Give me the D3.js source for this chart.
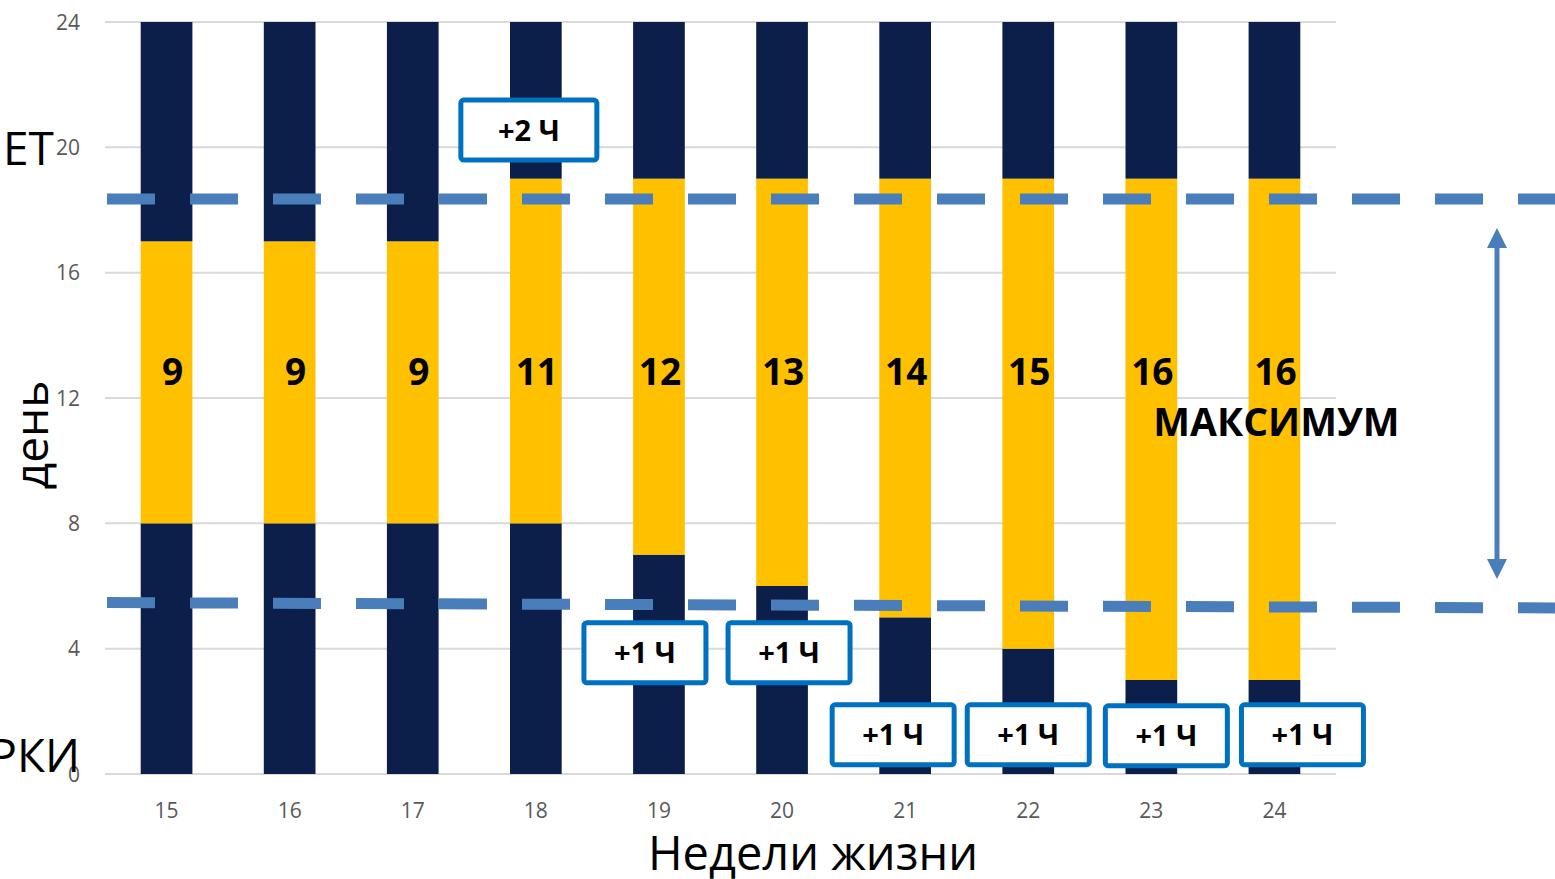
<!DOCTYPE html>
<html lang="ru">
  <head>
    <meta charset="UTF-8" />
    <title>Световой день</title>
    <style>
      body { margin: 0; background: #fff; }
      svg { display: block; }
      .grid line { stroke: #d9d9d9; stroke-width: 2px; }
      .tick-label { fill: #595959; font-family: "Open Sans", sans-serif; font-size: 21px; }
      .big { fill: #000; font-family: "Open Sans", sans-serif; font-size: 46px; }
      .val { fill: #000; font-family: "Open Sans", sans-serif; font-weight: 700; font-size: 37px; }
      .box rect { fill: #fff; stroke: #0070c0; stroke-width: 5px; }
      .box text { fill: #000; font-family: "Open Sans", sans-serif; font-weight: 700; font-size: 29px; }
    </style>
  </head>
  <body>
    <script src="https://cdn.jsdelivr.net/npm/d3@7"></script>
    <script>
      /* global d3 */

      // weeks of life, hour the light goes on, hour it goes off
      const weeks = [15, 16, 17, 18, 19, 20, 21, 22, 23, 24];
      const lightOn = [8, 8, 8, 8, 7, 6, 5, 4, 3, 3];
      const lightOff = [17, 17, 17, 19, 19, 19, 19, 19, 19, 19];
      const yTicks = [0, 4, 8, 12, 16, 20, 24];

      // the "+N Ч" callouts
      const noteWeeks = [18, 19, 20, 21, 22, 23, 24];
      const noteText = ["+2 Ч", "+1 Ч", "+1 Ч", "+1 Ч", "+1 Ч", "+1 Ч", "+1 Ч"];
      const noteHour = [20.55, 3.87, 3.87, 1.25, 1.25, 1.22, 1.25];

      // dashed reference levels (hours), left end / right end
      const upperLevel = [18.35, 18.35];
      const lowerLevel = [5.47, 5.3];

      const width = 1555,
        height = 879;

      const svg = d3
        .select("body")
        .append("svg")
        .attr("width", width)
        .attr("height", height);

      const x = d3
        .scaleBand()
        .domain(weeks)
        .range([105, 1336])
        .paddingInner(0.58)
        .paddingOuter(0.29);

      const y = d3.scaleLinear().domain([0, 24]).range([774, 22]);

      // grid
      svg
        .append("g")
        .attr("class", "grid")
        .selectAll("line")
        .data(yTicks)
        .join("line")
        .attr("x1", 105)
        .attr("x2", 1336)
        .attr("y1", d => y(d))
        .attr("y2", d => y(d));

      svg
        .append("g")
        .selectAll("text")
        .data(yTicks)
        .join("text")
        .attr("class", "tick-label")
        .attr("x", 80)
        .attr("y", d => y(d))
        .attr("dy", "0.36em")
        .attr("text-anchor", "end")
        .text(d => d);

      svg
        .append("g")
        .selectAll("text")
        .data(weeks)
        .join("text")
        .attr("class", "tick-label")
        .attr("x", d => x(d) + x.bandwidth() / 2)
        .attr("y", 818)
        .attr("text-anchor", "middle")
        .text(d => d);

      // bars: night before, light, night after
      const rows = weeks.map((w, i) => ({ w, on: lightOn[i], off: lightOff[i] }));
      const bars = svg.append("g");
      rows.forEach(d => {
        const segs = [
          [0, d.on, "#0c1f4b"],
          [d.on, d.off, "#ffc000"],
          [d.off, 24, "#0c1f4b"]
        ];
        bars
          .selectAll(null)
          .data(segs)
          .join("rect")
          .attr("x", x(d.w))
          .attr("width", x.bandwidth())
          .attr("y", s => y(s[1]))
          .attr("height", s => y(s[0]) - y(s[1]))
          .attr("fill", s => s[2]);
      });

      svg
        .append("g")
        .selectAll("text")
        .data(rows)
        .join("text")
        .attr("class", "val")
        .attr("x", (d, i) => x(d.w) + x.bandwidth() / 2 + (i < 3 ? 6 : 1))
        .attr("y", y(12.85))
        .attr("dy", "0.36em")
        .attr("text-anchor", "middle")
        .text(d => d.off - d.on);

      svg
        .append("text")
        .attr("class", "val")
        .attr("x", x(24) + x.bandwidth() / 2 + 2)
        .attr("y", y(11.22))
        .attr("dy", "0.36em")
        .attr("text-anchor", "middle")
        .style("font-size", "39px")
        .text("МАКСИМУМ");

      // dashed levels
      const dash = (lv) =>
        svg
          .append("line")
          .attr("x1", 107)
          .attr("x2", width)
          .attr("y1", y(lv[0]))
          .attr("y2", y(lv[1]))
          .attr("stroke", "#4a7ebb")
          .attr("stroke-width", 11)
          .attr("stroke-dasharray", "48 35");
      dash(upperLevel);
      dash(lowerLevel);

      // double arrow between the levels
      const ax = 1497;
      const a1 = y(upperLevel[1]) + 29,
        a2 = y(lowerLevel[1]) - 29;
      svg
        .append("line")
        .attr("x1", ax)
        .attr("x2", ax)
        .attr("y1", a1 + 16)
        .attr("y2", a2 - 16)
        .attr("stroke", "#4a7ebb")
        .attr("stroke-width", 5);
      svg
        .append("path")
        .attr("fill", "#4a7ebb")
        .attr(
          "d",
          `M${ax},${a1} l10,20 l-20,0 Z M${ax},${a2} l10,-20 l-20,0 Z`
        );

      // callout boxes
      const offsets = { 18: -7, 19: -14, 20: 7, 21: -12, 22: 0, 23: 15, 24: 28 };
      const notes = svg
        .append("g")
        .selectAll("g")
        .data(noteWeeks.map((w, i) => ({ w, t: noteText[i], h: noteHour[i] })))
        .join("g")
        .attr("class", "box")
        .attr(
          "transform",
          d => `translate(${x(d.w) + x.bandwidth() / 2 + offsets[d.w]},${y(d.h)})`
        );
      notes
        .append("rect")
        .attr("x", d => (d.t.startsWith("+2") ? -68 : -61))
        .attr("width", d => (d.t.startsWith("+2") ? 136 : 122))
        .attr("y", -30)
        .attr("height", 60)
        .attr("rx", 3);
      notes
        .append("text")
        .attr("text-anchor", "middle")
        .attr("dy", "0.36em")
        .text(d => d.t);

      // big labels, partly cut at the left edge
      svg
        .append("text")
        .attr("class", "big")
        .attr("x", 3)
        .attr("y", 165)
        .text("ЕТ");
      svg
        .append("text")
        .attr("class", "big")
        .attr("x", 80)
        .attr("y", 772)
        .attr("text-anchor", "end")
        .text("РКИ");
      svg
        .append("text")
        .attr("class", "big")
        .attr("transform", "translate(48,435) rotate(-90)")
        .attr("text-anchor", "middle")
        .text("день");
      svg
        .append("text")
        .attr("class", "big")
        .attr("x", 813)
        .attr("y", 870)
        .attr("text-anchor", "middle")
        .style("font-size", "47px")
        .text("Недели жизни");
    </script>
  </body>
</html>
